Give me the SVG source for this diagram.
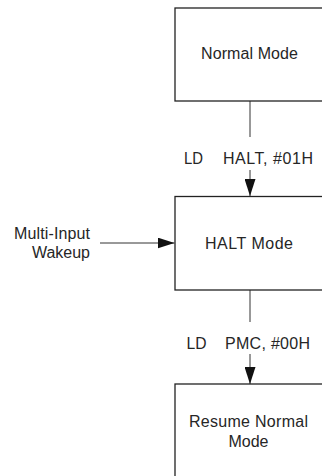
<svg xmlns="http://www.w3.org/2000/svg" width="322" height="476" viewBox="0 0 322 476">
<style>
.box{fill:#fff;stroke:#222;stroke-width:1.3}
.t{font-family:"Liberation Sans",Arial,sans-serif;font-size:16px;fill:#262626}
.c{stroke:#333;stroke-width:1;fill:none}
.ah{fill:#111}
</style>
<defs>
<marker id="arr" markerWidth="17" markerHeight="11" refX="17" refY="5.5" viewBox="0 0 17 11" markerUnits="userSpaceOnUse" orient="auto">
<path d="M0,0 L17,5.5 L0,11 Z" class="ah"/>
</marker>
</defs>
<g id="connectors">
<line class="c" x1="250" y1="101" x2="250" y2="137"/>
<line class="c" x1="250" y1="170" x2="250" y2="196" marker-end="url(#arr)"/>
<line class="c" x1="250" y1="290" x2="250" y2="322"/>
<line class="c" x1="250" y1="354" x2="250" y2="384" marker-end="url(#arr)"/>
<line class="c" x1="100" y1="243" x2="174.5" y2="243" marker-end="url(#arr)"/>
<text class="t" x="184" y="163.5" textLength="19" lengthAdjust="spacingAndGlyphs">LD</text>
<text class="t" x="223" y="163.5" textLength="90" lengthAdjust="spacing">HALT, #01H</text>
<text class="t" x="186.5" y="348.5" textLength="20" lengthAdjust="spacingAndGlyphs">LD</text>
<text class="t" x="225" y="348.5" textLength="85" lengthAdjust="spacing">PMC, #00H</text>
</g>
<g id="normal">
<rect class="box" x="175" y="8" width="150" height="93"/>
<text class="t" x="201" y="59" textLength="97" lengthAdjust="spacing">Normal Mode</text>
</g>
<g id="halt">
<rect class="box" x="175" y="196.5" width="150" height="93.5"/>
<text class="t" x="205" y="249" textLength="88" lengthAdjust="spacing">HALT Mode</text>
</g>
<g id="resume">
<rect class="box" x="175" y="384" width="150" height="96"/>
<text class="t" x="189" y="427" textLength="119" lengthAdjust="spacing">Resume Normal</text>
<text class="t" x="248.5" y="447" text-anchor="middle">Mode</text>
</g>
<g id="wakeup">
<text class="t" x="90" y="238.5" text-anchor="end" textLength="76" lengthAdjust="spacing">Multi-Input</text>
<text class="t" x="90" y="257.5" text-anchor="end">Wakeup</text>
</g>
</svg>
